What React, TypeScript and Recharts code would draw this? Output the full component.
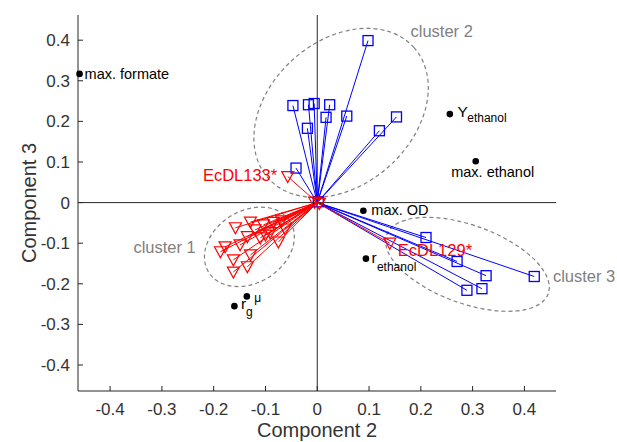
import React from "react"
import { ScatterChart, Scatter, XAxis, YAxis, ReferenceLine, ReferenceArea, Label } from "recharts"

const xTicks = [-0.4, -0.3, -0.2, -0.1, 0, 0.1, 0.2, 0.3, 0.4]
const yTicks = [-0.4, -0.3, -0.2, -0.1, 0, 0.1, 0.2, 0.3, 0.4]

// blue squares: strains in cluster 2 and cluster 3
const blueX = [0.098, -0.047, -0.017, -0.006, 0.024, 0.017, 0.057, -0.019, 0.120, 0.153, -0.041, 0.210, 0.270, 0.326, 0.419, 0.318, 0.289, 0.002]
const blueY = [0.399, 0.239, 0.241, 0.244, 0.241, 0.210, 0.213, 0.183, 0.177, 0.211, 0.085, -0.086, -0.145, -0.180, -0.182, -0.212, -0.216, 0.002]

// red triangles: cluster 1 and the two marked strains
const redNames = ["", "", "", "", "", "", "", "", "", "", "", "", "", "", "", "", "", "", "", "EcDL133*", "EcDL129*", "", ""]
const redX = [-0.158, -0.129, -0.104, -0.085, -0.069, -0.135, -0.110, -0.091, -0.075, -0.178, -0.149, -0.187, -0.129, -0.162, -0.135, -0.162, -0.100, -0.120, -0.062, -0.057, 0.140, -0.005, 0.004]
const redY = [-0.062, -0.048, -0.055, -0.049, -0.045, -0.084, -0.087, -0.074, -0.097, -0.109, -0.104, -0.121, -0.129, -0.141, -0.158, -0.171, -0.080, -0.067, -0.065, 0.064, -0.100, 0.001, -0.002]

// process variables
const varNames = ["max. formate", "Yethanol", "max. ethanol", "max. OD", "rethanol", "rg", "mu"]
const varX = [-0.459, 0.256, 0.306, 0.089, 0.094, -0.160, -0.136]
const varY = [0.317, 0.218, 0.102, -0.020, -0.138, -0.255, -0.231]

// cluster outlines
const clusterNames = ["cluster 1", "cluster 2", "cluster 3"]
const ellCx = [-0.131, 0.046, 0.290]
const ellCy = [-0.109, 0.221, -0.152]
const ellRx = [0.0927, 0.189, 0.166]
const ellRy = [0.0887, 0.177, 0.096]
const ellAngle = [-32, -42, 20]
const clusterLabelX = [-0.355, 0.180, 0.455]
const clusterLabelY = [-0.124, 0.409, -0.195]

const font = "'Liberation Sans', Arial, Helvetica, sans-serif"
const axisColor = "#262626"
const textColor = "#333333"
const blue = "#0000ff"
const red = "#ff0000"
const gray = "#808080"

const blueData = blueX.map((x, i) => ({ x, y: blueY[i] }))
const redData = redX.map((x, i) => ({ x, y: redY[i], name: redNames[i] }))
const varData = varX.map((x, i) => ({ x, y: varY[i], name: varNames[i] }))
const clusterLabelData = clusterNames.map((name, i) => ({ x: clusterLabelX[i], y: clusterLabelY[i], name }))

const fmt = (v: number) => (v === 0 ? "0" : v.toFixed(1))

const XTick = (p: any) => {
  const { x, y, payload } = p
  return (
    <g>
      <line x1={x} y1={y} x2={x} y2={y - 5} stroke={axisColor} />
      <text x={x} y={y + 24} textAnchor="middle" fontSize={17} fill={textColor} fontFamily={font}>{fmt(payload.value)}</text>
    </g>
  )
}

const YTick = (p: any) => {
  const { x, y, payload } = p
  return (
    <g>
      <line x1={x} y1={y} x2={x + 5} y2={y} stroke={axisColor} />
      <text x={x - 8} y={y + 6} textAnchor="end" fontSize={17} fill={textColor} fontFamily={font}>{fmt(payload.value)}</text>
    </g>
  )
}

const Square = (p: any) => {
  const { cx, cy } = p
  return <rect x={cx - 5} y={cy - 5} width={10} height={10} fill="none" stroke={blue} strokeWidth={1.3} />
}

const Triangle = (p: any) => {
  const { cx, cy, payload } = p
  const tri = <polygon points={`${cx - 6},${cy - 5} ${cx + 6},${cy - 5} ${cx},${cy + 6}`} fill="none" stroke={red} strokeWidth={1.2} />
  if (payload.name === "EcDL133*") {
    return (
      <g>
        {tri}
        <text x={cx - 10.5} y={cy + 4.5} textAnchor="end" fontSize={16.5} fill={red} fontFamily={font}>{payload.name}</text>
      </g>
    )
  }
  if (payload.name === "EcDL129*") {
    return (
      <g>
        {tri}
        <text x={cx + 8} y={cy + 12.7} fontSize={16.5} fill={red} fontFamily={font}>{payload.name}</text>
      </g>
    )
  }
  return tri
}

const VarDot = (p: any) => {
  const { cx, cy, payload } = p
  const t = { fill: "#000", fontFamily: font }
  let label: React.ReactNode = null
  switch (payload.name) {
    case "max. formate":
      label = <text x={cx + 5} y={cy + 5} fontSize={14.5} {...t}>max. formate</text>
      break
    case "Yethanol":
      label = (
        <>
          <text x={cx + 7.7} y={cy + 3} fontSize={15.5} {...t}>Y</text>
          <text x={cx + 17.4} y={cy + 8} fontSize={12} {...t}>ethanol</text>
        </>
      )
      break
    case "max. ethanol":
      label = <text x={cx + 17} y={cy + 15.4} fontSize={14.5} textAnchor="middle" {...t}>max. ethanol</text>
      break
    case "max. OD":
      label = <text x={cx + 8} y={cy + 4.5} fontSize={14.5} {...t}>max. OD</text>
      break
    case "rethanol":
      label = (
        <>
          <text x={cx + 5.5} y={cy + 4.5} fontSize={15.5} {...t}>r</text>
          <text x={cx + 11} y={cy + 12.5} fontSize={12} {...t}>ethanol</text>
        </>
      )
      break
    case "rg":
      label = (
        <>
          <text x={cx + 6.5} y={cy + 3} fontSize={15.5} {...t}>r</text>
          <text x={cx + 11.7} y={cy + 9.7} fontSize={12} {...t}>g</text>
        </>
      )
      break
    case "mu":
      label = <text x={cx + 7.3} y={cy + 5.7} fontSize={12} {...t}>μ</text>
      break
  }
  return (
    <g>
      <circle cx={cx} cy={cy} r={3.3} fill="#000" />
      {label}
    </g>
  )
}

const ClusterText = (p: any) => {
  const { cx, cy, payload } = p
  return <text x={cx} y={cy} fontSize={16.5} fill={gray} fontFamily={font}>{payload.name}</text>
}

const ellipseShape = (angle: number) => (p: any) => {
  const { x, y, width, height } = p
  const cx = x + width / 2
  const cy = y + height / 2
  return (
    <ellipse cx={cx} cy={cy} rx={Math.abs(width) / 2} ry={Math.abs(height) / 2}
      transform={`rotate(${angle} ${cx} ${cy})`}
      fill="none" stroke={gray} strokeWidth={1.2} strokeDasharray="4 3" />
  )
}

const App = () => {
  return (
    <div style={{ position: "absolute", left: 0, top: 0, background: "#fff" }}>
      <ScatterChart width={617} height={442} margin={{ top: 15, right: 61, bottom: 0, left: 18 }}>
        <XAxis type="number" dataKey="x" domain={[-0.462, 0.461]} ticks={xTicks} height={51}
          tickSize={0} tickMargin={0} tickLine={false} tick={<XTick />} interval={0}
          axisLine={{ stroke: axisColor }}>
          <Label content={(props: any) => {
            const vb = props.viewBox || { x: 78, y: 391, width: 478 }
            return <text x={vb.x + vb.width / 2} y={vb.y + 46} textAnchor="middle" fontSize={20} fill={textColor} fontFamily={font}>Component 2</text>
          }} />
        </XAxis>
        <YAxis type="number" dataKey="y" domain={[-0.464, 0.462]} ticks={yTicks} width={60}
          tickSize={0} tickMargin={0} tickLine={false} tick={<YTick />} interval={0}
          axisLine={{ stroke: axisColor }}>
          <Label content={(props: any) => {
            const vb = props.viewBox || { x: 18, y: 15, height: 376 }
            const lx = vb.x + 11
            const ly = vb.y + vb.height / 2
            return <text x={lx} y={ly} transform={`rotate(-90 ${lx} ${ly})`} textAnchor="middle" dominantBaseline="central" fontSize={20} fill={textColor} fontFamily={font}>Component 3</text>
          }} />
        </YAxis>
        <ReferenceLine x={0} stroke={axisColor} strokeWidth={1} />
        <ReferenceLine y={0} stroke={axisColor} strokeWidth={1} />
        {ellCx.map((cx, i) => (
          <ReferenceArea key={"e" + i} x1={cx - ellRx[i]} x2={cx + ellRx[i]} y1={ellCy[i] - ellRy[i]} y2={ellCy[i] + ellRy[i]}
            ifOverflow="visible" shape={ellipseShape(ellAngle[i])} />
        ))}
        {blueData.map((d, i) => (
          <ReferenceLine key={"b" + i} segment={[{ x: 0, y: 0 }, { x: d.x, y: d.y }]} stroke={blue} strokeWidth={1} ifOverflow="visible" />
        ))}
        {redData.map((d, i) => (
          <ReferenceLine key={"r" + i} segment={[{ x: 0, y: 0 }, { x: d.x, y: d.y }]} stroke={red} strokeWidth={1} ifOverflow="visible" />
        ))}
        <Scatter data={blueData} shape={<Square />} isAnimationActive={false} />
        <Scatter data={redData} shape={<Triangle />} isAnimationActive={false} />
        <Scatter data={varData} shape={<VarDot />} isAnimationActive={false} />
        <Scatter data={clusterLabelData} shape={<ClusterText />} isAnimationActive={false} />
      </ScatterChart>
    </div>
  )
}

export default App
